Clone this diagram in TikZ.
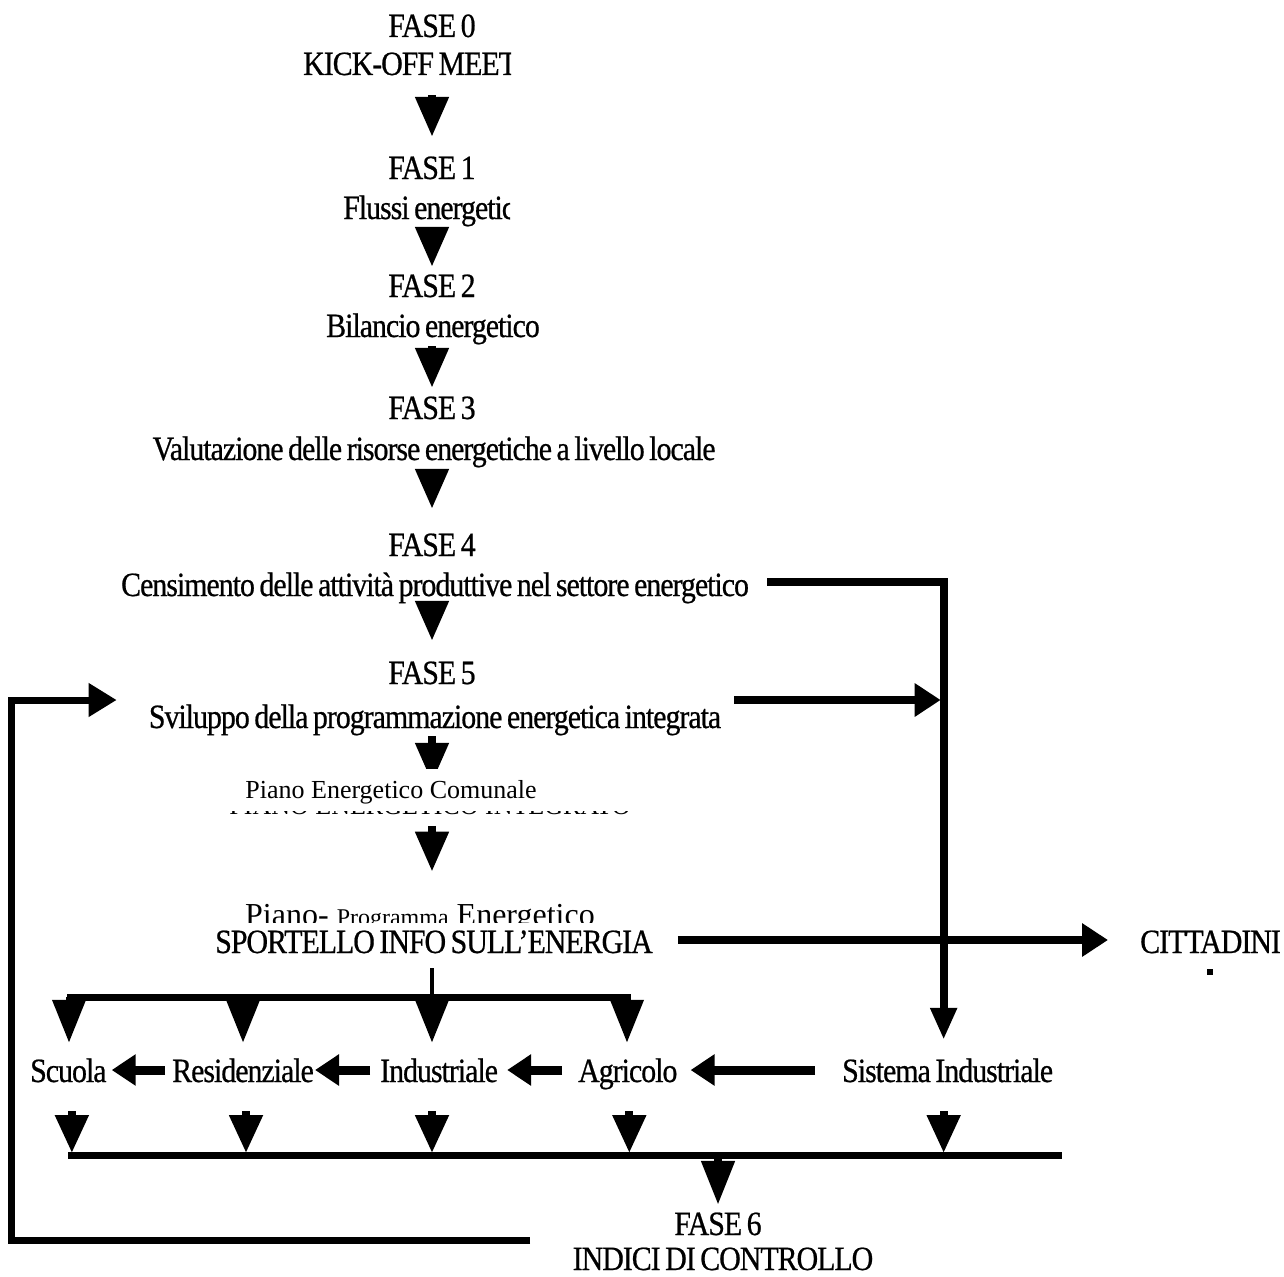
\documentclass[tikz,border=0pt]{standalone}
\usepackage{fontspec}
\setmainfont{Liberation Serif}
\newfontfamily\cond[FakeStretch=0.88, LetterSpace=-3, WordSpace=0.7, FakeBold=0.6]{Liberation Serif}
\usetikzlibrary{arrows.meta}
\begin{document}
\begin{tikzpicture}[x=1pt,y=-1pt,
  lbl/.style={font=\cond\fontsize{34}{36}\selectfont, inner sep=0pt, text height=24pt, text depth=7pt, anchor=base},
  lblw/.style={lbl, anchor=base west},
  plain/.style={font=\fontsize{26}{28}\selectfont, inner sep=0pt, anchor=base},
  varrow/.style={line width=8pt, -{Triangle[length=40pt,width=32pt]}},
  barrow/.style={line width=7pt, -{Triangle[length=43pt,width=32pt]}},
  larrow/.style={line width=8pt, -{Triangle[length=38pt,width=32pt]}},
  harrow/.style={line width=9pt, -{Triangle[length=24pt,width=30pt]}},
  rarrow/.style={line width=8pt, -{Triangle[length=26pt,width=32pt]}},
  thickline/.style={line width=7pt},
]
\useasboundingbox (0,0) rectangle (1284,1276);

% main column
\node[lbl] (f0a) at (432,37) {FASE 0};
\begin{scope}
  \clip (280,40) rectangle (511,90);
  \node[lblw] (f0b) at (303,75) {KICK-OFF MEETING};
\end{scope}
\node[lbl] (f1a) at (432,179) {FASE 1};
\begin{scope}
  \clip (320,185) rectangle (510,232);
  \node[lblw] (f1b) at (343,219) {Flussi energetici};
\end{scope}
\node[lbl] (f2a) at (432,297) {FASE 2};
\node[lbl] (f2b) at (433,337) {Bilancio energetico};
\node[lbl] (f3a) at (432,419) {FASE 3};
\node[lbl] (f3b) at (434,460) {Valutazione delle risorse energetiche a livello locale};
\node[lbl] (f4a) at (432,556) {FASE 4};
\node[lbl] (f4b) at (435,596) {Censimento delle attività produttive nel settore energetico};
\node[lbl] (f5a) at (432,684) {FASE 5};
\node[lbl] (f5b) at (435,728) {Sviluppo della programmazione energetica integrata};
\node[plain] (pec) at (391,798) {Piano Energetico Comunale};
\begin{scope}
  \clip (200,811) rectangle (680,814.5);
  \node[plain] (integ) at (430,814) {PIANO ENERGETICO INTEGRATO};
\end{scope}
\begin{scope}
  \clip (200,890) rectangle (680,922);
  \node[inner sep=0pt, anchor=base west, font=\fontsize{32}{34}\selectfont] (ppe) at (245,925)
    {Piano- {\fontsize{24}{26}\selectfont Programma} Energetico};
\end{scope}
\node[lbl] (spo) at (434,953) {SPORTELLO INFO SULL’ENERGIA};
\node[lblw] (cit) at (1140,953) {CITTADINI};
\fill (1207,969) rectangle (1213,975);

% arrows of the main column
\draw[varrow, shorten <=13pt, shorten >=18pt] (f1a.north |- f0b.south) -- (f1a.north);
\draw[varrow, shorten <=6pt, shorten >=6pt] (f2a.north |- f1b.south) -- (f2a.north);
\draw[varrow, shorten <=2pt, shorten >=7pt] (f3a.north |- f2b.south) -- (f3a.north);
\draw[varrow, shorten <=3pt, shorten >=23pt] (f4a.north |- f3b.south) -- (f4a.north);
\draw[varrow, shorten <=-3pt, shorten >=19pt] (f5a.north |- f4b.south) -- (f5a.north);
\begin{scope}
  \clip (380,730) rectangle (480,768);
  \draw[varrow, shorten <=1pt, shorten >=-3pt] (f5a.north |- f5b.south) -- (f5a |- pec.north);
\end{scope}
\draw[varrow, shorten <=22pt, shorten >=32pt] (f5a.north |- pec.south) -- (f5a |- ppe.north);

% SPORTELLO -> CITTADINI
\draw[rarrow, shorten <=25pt, shorten >=32pt] ([yshift=4.5pt]spo.east) -- ([yshift=4.5pt]spo.east -| cit.west);

% FASE 4 and FASE 5 -> Sistema Industriale
\node[lblw] (sis) at (842,1082) {Sistema Industriale};
\draw[line width=8pt, -{Triangle[length=32pt,width=25pt]}, shorten <=18pt, shorten >=18pt]
  ([yshift=5.5pt]f4b.east) -| ([xshift=-4pt]sis.north);
\draw[rarrow, shorten <=13pt, shorten >=3pt] ([yshift=19.5pt]f5b.east) -- ([yshift=19.5pt,xshift=-4pt]f5b.east -| sis.north);

% row of sectors
\node[lblw] (scu) at (30,1082) {Scuola};
\node[lblw] (res) at (172,1082) {Residenziale};
\node[lblw] (ind) at (380,1082) {Industriale};
\node[lblw] (agr) at (578,1082) {Agricolo};

\draw[harrow, shorten <=7pt, shorten >=5pt] ([yshift=3.5pt]res.west) -- ([yshift=3.5pt]scu.east);
\draw[harrow, shorten <=10pt, shorten >=1pt] ([yshift=3.5pt]ind.west) -- ([yshift=3.5pt]res.east);
\draw[harrow, shorten <=16pt, shorten >=9pt] ([yshift=3.5pt]agr.west) -- ([yshift=3.5pt]ind.east);
\draw[harrow, shorten <=27pt, shorten >=13pt] ([yshift=3.5pt]sis.west) -- ([yshift=3.5pt]agr.east);

% distribution bar under SPORTELLO
\coordinate (busL) at (67,997);
\coordinate (busR) at (631,997);
\draw[line width=4pt, shorten <=8pt] (spo.south -| f5a) -- (f5a |- busL);
\draw[thickline] (busL) -- (busR);
\draw[barrow, shorten >=15pt] ([xshift=2pt]busL) -- ([xshift=2pt]busL |- scu.north);
\draw[barrow, shorten >=15pt] (busL -| res.north) -- (res.north);
\draw[barrow, shorten >=15pt] (busL -| f5a) -- (f5a |- ind.north);
\draw[barrow, shorten >=15pt] ([xshift=-4pt]busR) -- ([xshift=-4pt]busR |- agr.north);

% collecting bar towards FASE 6
\node[lbl] (f6a) at (718,1235) {FASE 6};
\node[lbl] (f6b) at (723,1270) {INDICI DI CONTROLLO};
\coordinate (colL) at (68,1155);
\coordinate (colR) at (1062,1155);
\draw[thickline] (colL) -- (colR);
\draw[larrow, shorten <=22pt, shorten >=2pt] ([xshift=3.5pt]scu.south) -- ([xshift=3.5pt]scu.south |- colL);
\draw[larrow, shorten <=22pt, shorten >=2pt] ([xshift=3pt]res.south) -- ([xshift=3pt]res.south |- colL);
\draw[larrow, shorten <=22pt, shorten >=2pt] (ind.south -| f5a) -- (f5a |- colL);
\draw[larrow, shorten <=22pt, shorten >=2pt] ([xshift=1.5pt]agr.south) -- ([xshift=1.5pt]agr.south |- colL);
\draw[larrow, shorten <=22pt, shorten >=2pt] ([xshift=-4pt]sis.south) -- ([xshift=-4pt]sis.south |- colL);
\draw[line width=8pt, -{Triangle[length=44pt,width=32pt]}, shorten <=2pt, shorten >=6pt] (colL -| f6a) -- (f6a.north);

% feedback loop from FASE 6 to FASE 5
\coordinate (loopS) at (530,1240);
\draw[line width=7pt, -{Triangle[length=28pt,width=32pt]}, shorten >=32pt]
  (loopS) -- ++(-519,0) |- ([yshift=19.5pt]f5b.west);
\end{tikzpicture}
\end{document}
